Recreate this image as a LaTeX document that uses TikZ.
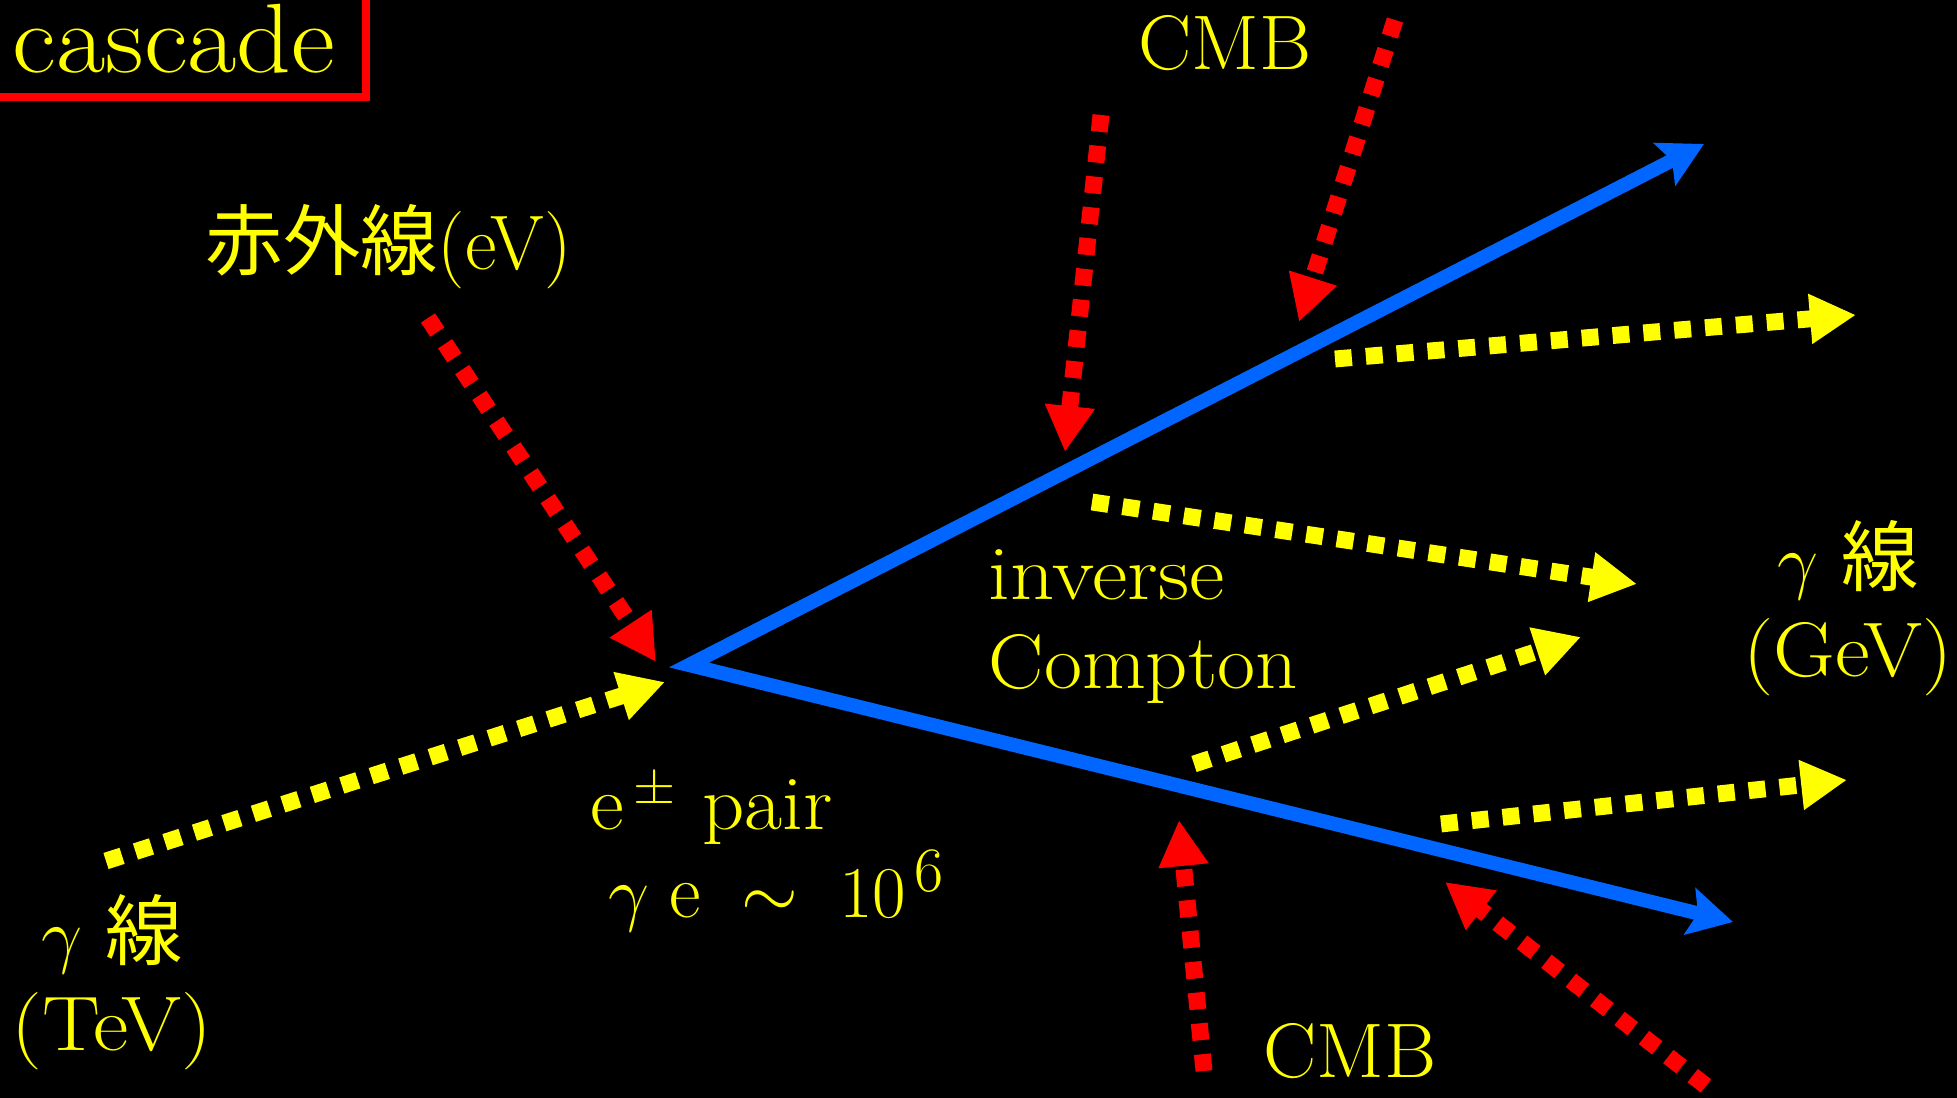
\documentclass[tikz,border=0pt]{standalone}
\usepackage{fontspec}
\newfontfamily\jpfont{Noto Sans CJK JP}
\usepackage{xcolor}
\usetikzlibrary{arrows.meta}
\definecolor{ppred}{RGB}{255,0,0}
\definecolor{ppyellow}{RGB}{255,255,0}
\definecolor{ppblue}{RGB}{0,102,255}
\newcommand{\widen}[2]{\scalebox{#1}[1]{#2}}

\begin{document}
\begin{tikzpicture}[x=0.01cm, y=-0.01cm,
    every node/.style={text=ppyellow, inner sep=0pt, font=\fontsize{22}{26}\selectfont},
    photon/.style={line width=4.8pt, dash pattern=on 4.8pt off 4pt,
      -{Triangle[length=4.6mm,width=4.7mm]}},
    soft/.style={photon, color=ppred},
    hard/.style={photon, color=ppyellow},
    lepton/.style={color=ppblue, line width=4pt, line join=miter,
      {Stealth[length=4.4mm,width=4.7mm,inset=0.8mm]}-{Stealth[length=4.4mm,width=4.7mm,inset=0.8mm]}}]
  \useasboundingbox (0,0) rectangle (1957,1098);
  \fill[black] (0,0) rectangle (1957,1098);

  % title box, cut by the page corner
  \node[anchor=base west, font=\fontsize{28}{30}\selectfont] (title) at (12,73) {\widen{1.09}{cascade}};
  \draw[ppred, line width=2pt] (-20,-20) rectangle (366,97);

  % end points
  \coordinate (tevStart) at (106,861);
  \coordinate (tevEnd)   at (665,682);
  \coordinate (irStart)  at (428,318);
  \coordinate (irEnd)    at (656,662);
  \coordinate (vertex)   at (689,665);
  \coordinate (posTip)   at (1704,144);
  \coordinate (eleTip)   at (1733,922);
  \coordinate (cmbAs) at (1101,115);  \coordinate (cmbAe) at (1065,452);
  \coordinate (cmbBs) at (1395,20);   \coordinate (cmbBe) at (1299,322);
  \coordinate (cmbCs) at (1204,1071); \coordinate (cmbCe) at (1179,820);
  \coordinate (cmbDs) at (1706,1086); \coordinate (cmbDe) at (1445,882);
  \coordinate (icAs) at (1335,359);   \coordinate (icAe) at (1856,315);
  \coordinate (icBs) at (1092,502);   \coordinate (icBe) at (1637,584);
  \coordinate (icCs) at (1194,764);   \coordinate (icCe) at (1581,637);
  \coordinate (icDs) at (1441,824);   \coordinate (icDe) at (1847,780);

  % TeV gamma ray meets an infrared photon
  \draw[hard] (tevStart) -- (tevEnd);
  \draw[soft] (irStart) -- (irEnd);
  % the pair
  \draw[lepton] (posTip) -- (vertex) -- (eleTip);
  % CMB photons
  \draw[soft] (cmbAs) -- (cmbAe);
  \draw[soft] (cmbBs) -- (cmbBe);
  \draw[soft] (cmbCs) -- (cmbCe);
  \draw[soft] (cmbDs) -- (cmbDe);
  % scattered GeV photons
  \draw[hard] (icAs) -- (icAe);
  \draw[hard] (icBs) -- (icBe);
  \draw[hard] (icCs) -- (icCe);
  \draw[hard] (icDs) -- (icDe);

  % labels
  \node[anchor=base west] (irlabel) at (205,270) {{\jpfont 赤外線}(eV)};
  \node[anchor=base west] (cmbtop) at (1138,70) {\widen{1.03}{CMB}};
  \node[anchor=base west] (cmbbot) at (1263,1078) {\widen{1.03}{CMB}};
  \node[anchor=base west] (inv) at (988,600) {\widen{1.12}{inverse}};
  \node[anchor=base west] (comp) at (988,689) {\widen{1.07}{Compton}};
  \node[anchor=base west] (pair) at (590,830) {\widen{1.07}{e$^{\,\pm}$ pair}};
  \node[anchor=base west] (lorentz) at (608,918)
    {$\gamma\;\mathrm{e}\;\sim\;10^{\,\mbox{\fontsize{18}{20}\selectfont 6}}$};
  \node[align=center] (tev) at (112,982) {$\gamma$ {\jpfont 線}\\\widen{1.12}{(TeV)}};
  \node[align=center] (gev) at (1848,608) {$\gamma$ {\jpfont 線}\\\widen{1.1}{(GeV)}};
\end{tikzpicture}
\end{document}
